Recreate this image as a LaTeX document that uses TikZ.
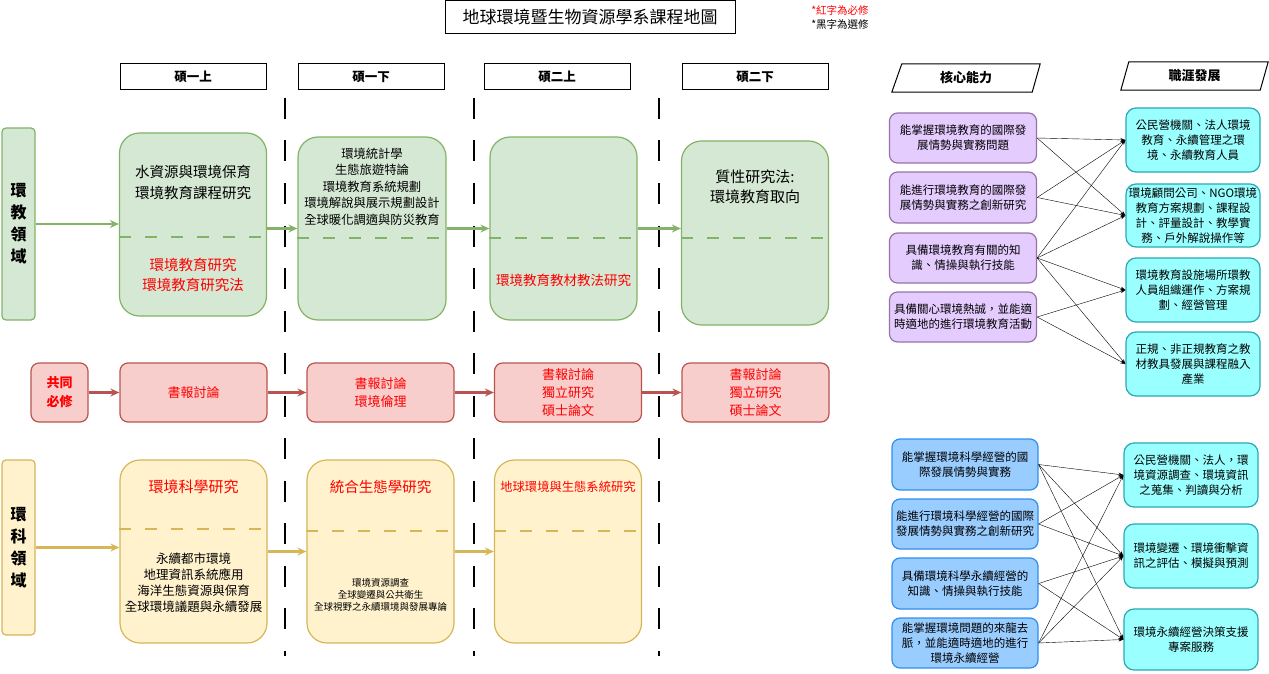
\documentclass[tikz,border=0pt]{standalone}
\usepackage{fontspec}
\setmainfont{Noto Sans CJK TC}
\usepackage{xcolor}
\usepackage{tikz}
\usetikzlibrary{arrows.meta}

\definecolor{eduFill}{HTML}{D5E8D4}
\definecolor{eduLine}{HTML}{82B366}
\definecolor{comFill}{HTML}{F8CECC}
\definecolor{comLine}{HTML}{B85450}
\definecolor{sciFill}{HTML}{FFF2CC}
\definecolor{sciLine}{HTML}{D6B656}
\definecolor{coreFill}{HTML}{E5CCFF}
\definecolor{coreLine}{HTML}{9673A6}
\definecolor{jobFill}{HTML}{99FFFF}
\definecolor{jobLine}{HTML}{2AA8B4}
\definecolor{sciCoreFill}{HTML}{99CCFF}
\definecolor{sciCoreLine}{HTML}{2F8FEF}
\definecolor{must}{HTML}{FF0000}

\begin{document}
\begin{tikzpicture}[x=1pt, y=-1pt,
    every node/.style={inner sep=0pt, align=center},
    hdbox/.style={draw, line width=1pt, minimum width=146pt, minimum height=26pt, font=\fontsize{12.5}{15}\selectfont\bfseries},
    sidelabel/.style={draw=#1Line, fill=#1Fill, line width=1.2pt, rounded corners=4pt, minimum width=33pt},
    bigbox/.style={draw=#1Line, fill=#1Fill, line width=1.2pt, rounded corners=20pt, minimum width=147pt, minimum height=183pt},
    combox/.style={draw=comLine, fill=comFill, text=must, line width=1.2pt, rounded corners=8pt, minimum width=147pt, minimum height=59pt, font=\fontsize{13}{18}\selectfont},
    corebox/.style={draw=#1Line, fill=#1Fill, line width=1.2pt, rounded corners=8pt, minimum width=147pt, minimum height=50pt, font=\fontsize{11.5}{15}\selectfont},
    jobbox/.style={draw=jobLine, fill=jobFill, line width=1.2pt, rounded corners=10pt, minimum width=134pt, minimum height=64pt, font=\fontsize{11.5}{15}\selectfont},
    divider/.style={#1Line, line width=1.5pt, dash pattern=on 12pt off 14pt},
    flow/.style={#1Line, line width=2.2pt, -{Stealth[length=9pt, width=8pt]}},
    link/.style={line width=0.4pt, -{Stealth[length=5pt, width=3.5pt]}},
    term/.style={black, line width=2pt, dash pattern=on 21pt off 21.5pt}]

    \useasboundingbox (0,0) rectangle (1269,674);

    % title and legend
    \node [draw, line width=1pt, minimum width=290pt, minimum height=33pt, font=\fontsize{17}{20}\selectfont] (title) at (590, 17.5) {地球環境暨生物資源學系課程地圖};
    \node [text=must, font=\fontsize{10.5}{12}\selectfont] (legMust) at (840, 10) {*紅字為必修};
    \node [font=\fontsize{10.5}{12}\selectfont] (legOpt) at (840, 24.5) {*黑字為選修};

    % semesters
    \coordinate (S11) at (193, 77);
    \coordinate (S12) at (371, 77);
    \coordinate (S21) at (557, 77);
    \coordinate (S22) at (755, 77);

    \node [hdbox] (sem11) at (S11) {碩一上};
    \node [hdbox] (sem12) at (S12) {碩一下};
    \node [hdbox] (sem21) at (S21) {碩二上};
    \node [hdbox] (sem22) at (S22) {碩二下};

    \draw [term] (285, 98) -- (285, 656);
    \draw [term] (474, 98) -- (474, 656);
    \draw [term] (659, 98) -- (659, 656);

    % environmental education
    \node [sidelabel=edu, minimum height=192pt, font=\fontsize{16}{22}\selectfont\bfseries] (labEdu) at (18.5, 224) {環\\教\\領\\域};

    \node [bigbox=edu] (G1) at (193, 224.5) {};
    \node [bigbox=edu, minimum width=148pt] (G2) at (372, 228.5) {};
    \node [bigbox=edu] (G3) at (563.5, 228.5) {};
    \node [bigbox=edu, minimum height=184pt] (G4) at (755, 233) {};

    \draw [divider=edu] (G1.west |- 0, 237) -- (G1.east |- 0, 237);
    \draw [divider=edu] (G2.west |- 0, 238) -- (G2.east |- 0, 238);
    \draw [divider=edu] (G3.west |- 0, 238) -- (G3.east |- 0, 238);
    \draw [divider=edu] (G4.west |- 0, 238) -- (G4.east |- 0, 238);

    \node [font=\fontsize{14.5}{21}\selectfont] (G1opt) at (193, 182.5) {水資源與環境保育\\環境教育課程研究};
    \node [text=must, font=\fontsize{14.5}{20}\selectfont] (G1must) at (193, 275) {環境教育研究\\環境教育研究法};
    \node [font=\fontsize{12.3}{16.5}\selectfont] (G2opt) at (372, 186.5) {環境統計學\\生態旅遊特論\\環境教育系統規劃\\環境解說與展示規劃設計\\全球暖化調適與防災教育};
    \node [text=must, font=\fontsize{13.5}{16}\selectfont] (G3must) at (563.5, 280) {環境教育教材教法研究};
    \node [font=\fontsize{15}{20}\selectfont] (G4opt) at (755, 187) {質性研究法:\\環境教育取向};

    \draw [flow=edu] (labEdu.east) -- (labEdu.east -| G1.west);
    \draw [flow=edu] (G1.east |- G2.west) -- (G2.west);
    \draw [flow=edu] (G2.east) -- (G3.west);
    \draw [flow=edu] (G3.east) -- (G3.east -| G4.west);

    % common required
    \node [sidelabel=com, minimum width=57pt, minimum height=59pt, rounded corners=8pt, text=must, font=\fontsize{13}{19}\selectfont\bfseries] (labCom) at (59.5, 392.5) {共同\\必修};

    \node [combox] (R1) at (193.5, 392.5) {書報討論};
    \node [combox] (R2) at (380.5, 392.5) {書報討論\\環境倫理};
    \node [combox] (R3) at (568, 392.5) {書報討論\\獨立研究\\碩士論文};
    \node [combox] (R4) at (755.5, 392.5) {書報討論\\獨立研究\\碩士論文};

    \draw [flow=com] (labCom) -- (R1);
    \draw [flow=com] (R1) -- (R2);
    \draw [flow=com] (R2) -- (R3);
    \draw [flow=com] (R3) -- (R4);

    % environmental science
    \node [sidelabel=sci, minimum height=175pt, font=\fontsize{16}{22}\selectfont\bfseries] (labSci) at (18.5, 547.5) {環\\科\\領\\域};

    \node [bigbox=sci] (Y1) at (193.5, 551.5) {};
    \node [bigbox=sci] (Y2) at (380.5, 551.5) {};
    \node [bigbox=sci] (Y3) at (568, 551.5) {};

    \draw [divider=sci] (Y1.west |- 0, 529) -- (Y1.east |- 0, 529);
    \draw [divider=sci] (Y2.west |- 0, 531) -- (Y2.east |- 0, 531);
    \draw [divider=sci] (Y3.west |- 0, 531) -- (Y3.east |- 0, 531);

    \node [text=must, font=\fontsize{15}{18}\selectfont] (Y1must) at (193.5, 487) {環境科學研究};
    \node [font=\fontsize{12.5}{16}\selectfont] (Y1opt) at (193.5, 583) {永續都市環境\\地理資訊系統應用\\海洋生態資源與保育\\全球環境議題與永續發展};
    \node [text=must, font=\fontsize{14.5}{18}\selectfont] (Y2must) at (380.5, 487) {統合生態學研究};
    \node [font=\fontsize{9.5}{12}\selectfont] (Y2opt) at (380.5, 595) {環境資源調查\\全球變遷與公共衛生\\全球視野之永續環境與發展專論};
    \node [text=must, font=\fontsize{12.3}{15}\selectfont] (Y3must) at (568, 487) {地球環境與生態系統研究};

    \draw [flow=sci] (labSci.east) -- (labSci.east -| Y1.west);
    \draw [flow=sci] (Y1) -- (Y2);
    \draw [flow=sci] (Y2) -- (Y3);

    % core abilities and careers
    \node [minimum width=148pt, minimum height=28pt, font=\fontsize{13}{15}\selectfont\bfseries] (hdCore) at (966, 78) {核心能力};
    \draw [line width=1pt] (hdCore.south west) -- ([xshift=10pt]hdCore.north west) -- (hdCore.north east) -- ([xshift=-8pt]hdCore.south east) -- cycle;
    \node [minimum width=147pt, minimum height=28pt, font=\fontsize{13}{15}\selectfont\bfseries] (hdJob) at (1194.5, 76) {職涯發展};
    \draw [line width=1pt] (hdJob.south west) -- ([xshift=8pt]hdJob.north west) -- (hdJob.north east) -- ([xshift=-8pt]hdJob.south east) -- cycle;

    \node [corebox=core] (P1) at (963, 138) {能掌握環境教育的國際發\\展情勢與實務問題};
    \node [corebox=core, minimum height=51pt] (P2) at (963, 197.5) {能進行環境教育的國際發\\展情勢與實務之創新研究};
    \node [corebox=core] (P3) at (963, 258) {具備環境教育有關的知\\識、情操與執行技能};
    \node [corebox=core] (P4) at (963, 317) {具備關心環境熱誠，並能適\\時適地的進行環境教育活動};

    \node [jobbox] (C1) at (1193, 140) {公民營機關、法人環境\\教育、永續管理之環\\境、永續教育人員};
    \node [jobbox, minimum height=63pt] (C2) at (1193, 215.5) {環境顧問公司、NGO環境\\教育方案規劃、課程設\\計、評量設計、教學實\\務、戶外解說操作等};
    \node [jobbox] (C3) at (1193, 290) {環境教育設施場所環教\\人員組織運作、方案規\\劃、經營管理};
    \node [jobbox] (C4) at (1193, 364) {正規、非正規教育之教\\材教具發展與課程融入\\產業};

    \draw [link] (P1.east) -- (C1.west);
    \draw [link] (P1.east) -- (C2.west);
    \draw [link] (P2.east) -- (C1.west);
    \draw [link] (P2.east) -- (C2.west);
    \draw [link] (P3.east) -- (C1.west);
    \draw [link] (P3.east) -- (C2.west);
    \draw [link] (P3.east) -- (C3.west);
    \draw [link] (P3.east) -- (C4.west);
    \draw [link] (P4.east) -- (C3.west);
    \draw [link] (P4.east) -- (C4.west);

    \node [corebox=sciCore, minimum width=146pt, minimum height=51pt] (B1) at (965, 464.5) {能掌握環境科學經營的國\\際發展情勢與實務};
    \node [corebox=sciCore, minimum width=146pt] (B2) at (965, 524) {能進行環境科學經營的國際\\發展情勢與實務之創新研究};
    \node [corebox=sciCore, minimum width=146pt, minimum height=51pt] (B3) at (965, 583.5) {具備環境科學永續經營的\\知識、情操與執行技能};
    \node [corebox=sciCore, minimum width=146pt] (B4) at (965, 643) {能掌握環境問題的來龍去\\脈，並能適時適地的進行\\環境永續經營};

    \node [jobbox] (D1) at (1191, 475) {公民營機關、法人，環\\境資源調查、環境資訊\\之蒐集、判讀與分析};
    \node [jobbox] (D2) at (1191, 556) {環境變遷、環境衝擊資\\訊之評估、模擬與預測};
    \node [jobbox, minimum height=61pt] (D3) at (1191, 639.5) {環境永續經營決策支援\\專案服務};

    \draw [link] (B1.east) -- (D1.west);
    \draw [link] (B1.east) -- (D2.west);
    \draw [link] (B1.east) -- (D3.west);
    \draw [link] (B2.east) -- (D1.west);
    \draw [link] (B2.east) -- (D2.west);
    \draw [link] (B3.east) -- (D2.west);
    \draw [link] (B3.east) -- (D3.west);
    \draw [link] (B4.east) -- (D1.west);
    \draw [link] (B4.east) -- (D2.west);
    \draw [link] (B4.east) -- (D3.west);
\end{tikzpicture}
\end{document}
